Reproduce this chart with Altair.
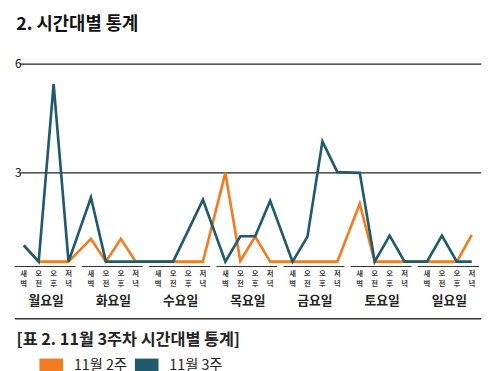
import altair as alt
import pandas as pd

# ---- data ----
days = ["월요일", "화요일", "수요일", "목요일", "금요일", "토요일", "일요일"]
slot_top = ["새", "오", "오", "저"]
slot_bottom = ["벽", "전", "후", "녁"]
series_names = ["11월 2주", "11월 3주"]
series_colors = ["#F47C20", "#1F5B6C"]
y_ticks = [3, 6]

week2 = [1.0, 0.55, 0.55, 0.55,
         1.18, 0.55, 1.18, 0.55,
         0.55, 0.55, 0.55, 0.55,
         3.0, 0.57, 1.24, 0.55,
         0.55, 0.55, 0.55, 0.55,
         2.15, 0.55, 0.55, 0.55,
         0.55, 0.55, 0.55, 1.29]
week3 = [1.0, 0.55, 5.45, 0.55,
         2.32, 0.55, 0.55, 0.55,
         0.55, 0.55, 1.4, 2.26,
         0.55, 1.25, 1.25, 2.23,
         0.55, 1.24, 3.87, 3.02,
         3.0, 0.55, 1.27, 0.55,
         0.55, 1.27, 0.55, 0.55]

title_text = "2. 시간대별 통계"
caption_text = "[표 2. 11월 3주차 시간대별 통계]"

FONT = "Noto Sans CJK KR"
GAP = 4.5  # slot positions per day incl. gap between days

# ---- tables ----
line_rows = []
slot_rows = []
for d, day in enumerate(days):
    for i in range(4):
        pos = d * GAP + i
        k = d * 4 + i
        line_rows.append({"pos": pos, "value": week2[k], "series": series_names[0], "order": k})
        line_rows.append({"pos": pos, "value": week3[k], "series": series_names[1], "order": k})
        slot_rows.append({"pos": pos, "top": slot_top[i], "bottom": slot_bottom[i]})
lines_df = pd.DataFrame(line_rows)
slots_df = pd.DataFrame(slot_rows)
days_df = pd.DataFrame({
    "day": days,
    "start": [d * GAP - 0.6 for d in range(len(days))],
    "end": [d * GAP + 3.47 for d in range(len(days))],
    "center": [d * GAP + 1.5 for d in range(len(days))],
})
ticks_df = pd.DataFrame({"v": y_ticks})
one = pd.DataFrame({"a": [0]})

W, H = 474, 221
xs = alt.Scale(domain=[-0.593, 30.63], nice=False, zero=False)
ys = alt.Scale(domain=[0, 6], nice=False, zero=True)

grid = alt.Chart(ticks_df).mark_rule(color="#222", strokeWidth=1.2).encode(
    y=alt.Y("v:Q", scale=ys, axis=None),
    x=alt.value(5), x2=alt.value(W),
)
ylabels = alt.Chart(ticks_df).mark_text(
    align="left", baseline="middle", font=FONT, fontSize=12, color="#111"
).encode(
    y=alt.Y("v:Q", scale=ys, axis=None),
    x=alt.value(0),
    text="v:Q",
)
lines = alt.Chart(lines_df).mark_line(strokeWidth=2.7, clip=True).encode(
    x=alt.X("pos:Q", scale=xs, axis=None),
    y=alt.Y("value:Q", scale=ys, axis=None),
    color=alt.Color(
        "series:N",
        scale=alt.Scale(domain=series_names, range=series_colors),
        legend=alt.Legend(
            orient="none", legendX=17.5, legendY=287, direction="horizontal",
            title=None, symbolType="M-1,0H1", symbolSize=576,
            symbolStrokeWidth=15, labelFont=FONT, labelFontSize=14.5,
            labelColor="#222", labelOffset=3.5, columnPadding=-23.5,
        ),
    ),
    order="order:Q",
)
slot1 = alt.Chart(slots_df).mark_text(
    font=FONT, fontSize=7.5, fontWeight="bold", color="#444", baseline="middle"
).encode(x=alt.X("pos:Q", scale=xs, axis=None), y=alt.value(213), text="top:N")
slot2 = alt.Chart(slots_df).mark_text(
    font=FONT, fontSize=7.5, fontWeight="bold", color="#444", baseline="middle"
).encode(x=alt.X("pos:Q", scale=xs, axis=None), y=alt.value(223.7), text="bottom:N")
underline = alt.Chart(days_df).mark_rule(color="#333", strokeWidth=1.2).encode(
    x=alt.X("start:Q", scale=xs, axis=None), x2="end:Q", y=alt.value(205.7)
)
daylabels = alt.Chart(days_df).mark_text(
    font=FONT, fontSize=13, fontWeight="bold", color="#222", baseline="middle"
).encode(x=alt.X("center:Q", scale=xs, axis=None), y=alt.value(241), text="day:N")
sep = alt.Chart(one).mark_rule(color="#333", strokeWidth=1.5).encode(
    x=alt.value(0), x2=alt.value(W), y=alt.value(258.7)
)
title = alt.Chart(one).mark_text(
    font=FONT, fontSize=18, fontWeight="bold", color="#111", align="left", baseline="alphabetic"
).encode(x=alt.value(1.5), y=alt.value(-35), text=alt.value(title_text))
caption = alt.Chart(one).mark_text(
    font=FONT, fontSize=16.5, fontWeight="bold", color="#222", align="left", baseline="alphabetic"
).encode(x=alt.value(1.7), y=alt.value(285), text=alt.value(caption_text))

chart = alt.layer(
    grid, ylabels, lines, slot1, slot2, underline, daylabels, sep, title, caption
).properties(
    width=W, height=H,
    autosize=alt.AutoSizeParams(type="none"),
    padding={"left": 7, "top": 54, "right": 11, "bottom": 100},
).configure_view(stroke=None)

chart.save("out.html", embed_options={"renderer": "svg", "actions": False})
